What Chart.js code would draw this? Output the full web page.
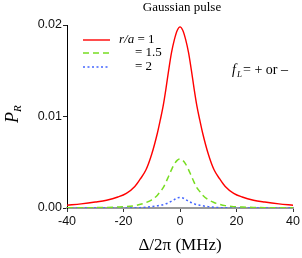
<!DOCTYPE html>
<html>
<head>
<meta charset="utf-8">
<script src="https://cdn.jsdelivr.net/npm/chart.js@4/dist/chart.umd.min.js"></script>
<style>
  html, body { margin: 0; padding: 0; background: #fff; }
  #wrap { width: 302px; height: 258px; }
</style>
</head>
<body>
<div id="wrap"><canvas id="pulseChart"></canvas></div>
<script>
// detuning (MHz)
var detuning = [-40,-35,-30,-26,-22,-19,-16,-14,-12,-10,-8,-7,-6,-5,-4,-3,-2,-1,0,1,2,3,4,5,6,7,8,10,12,14,16,19,22,26,30,35,40];
// P_R for r/a = 1, 1.5, 2
var prRa1 = [0.00030,0.00045,0.00065,0.00085,0.0012,0.00160,0.00235,0.0032,0.0042,0.0059,0.0082,0.0096,0.0111,0.0130,0.0151,0.0170,0.0184,0.0194,0.0198,
             0.0194,0.0184,0.0170,0.0151,0.0130,0.0111,0.0096,0.0082,0.0059,0.0042,0.0032,0.00235,0.00160,0.0012,0.00085,0.00065,0.00045,0.00030];
var prRa15 = [0.00002,0.00003,0.00004,0.00006,0.00010,0.00015,0.00026,0.0004,0.0006,0.0009,0.0014,0.0018,0.0022,0.0028,0.0035,0.0042,0.0048,0.0052,0.00535,
              0.0052,0.0048,0.0042,0.0035,0.0028,0.0022,0.0018,0.0014,0.0009,0.0006,0.0004,0.00026,0.00015,0.00010,0.00006,0.00004,0.00003,0.00002];
var prRa2 = [0,0,0,0.00001,0.00001,0.00001,0.00002,0.00004,0.00008,0.00015,0.00024,0.0003,0.00036,0.00046,0.00058,0.00075,0.00092,0.0011,0.00115,
             0.0011,0.00092,0.00075,0.00058,0.00046,0.00036,0.0003,0.00024,0.00015,0.00008,0.00004,0.00002,0.00001,0.00001,0.00001,0,0,0];
var xTicks = [-40,-20,0,20,40];
var yTicks = [0, 0.01, 0.02];

var SERIF = '"Liberation Serif", "DejaVu Serif", serif';
var SANS = '"Liberation Sans", Arial, sans-serif';

function pts(ys) {
  return detuning.map(function(x, i) { return {x: x, y: ys[i]}; });
}

// title, legend, labels drawn by hand
var labelsPlugin = {
  id: 'labels',
  afterDraw: function(chart) {
    var ctx = chart.ctx;
    var ca = chart.chartArea;
    var cx = (ca.left + ca.right) / 2;
    ctx.save();
    ctx.fillStyle = '#000';
    ctx.textBaseline = 'middle';

    ctx.font = '13px ' + SERIF;
    ctx.textAlign = 'center';
    ctx.fillText('Gaussian pulse', cx + 2, 8);

    ctx.font = '17px ' + SERIF;
    ctx.fillText('\u0394/2\u03c0 (MHz)', cx, 246);

    // y title
    ctx.save();
    ctx.translate(13, 116);
    ctx.rotate(-Math.PI / 2);
    ctx.font = 'italic 18px ' + SERIF;
    ctx.textAlign = 'left';
    ctx.fillText('P', -7, 0);
    ctx.font = 'italic 11px ' + SERIF;
    ctx.fillText('R', 4, 5);
    ctx.restore();

    // legend
    var rows = [
      {y: 40, color: '#ff0000', dash: []},
      {y: 53, color: '#77dd22', dash: [6, 4]},
      {y: 67, color: '#4466ff', dash: [2, 2.5]}
    ];
    rows.forEach(function(r) {
      ctx.beginPath();
      ctx.setLineDash(r.dash);
      ctx.strokeStyle = r.color;
      ctx.lineWidth = 1.4;
      ctx.moveTo(83, r.y);
      ctx.lineTo(110, r.y);
      ctx.stroke();
    });
    ctx.setLineDash([]);
    ctx.textAlign = 'left';
    ctx.font = 'italic 13px ' + SERIF;
    ctx.fillText('r/a', 119, 40);
    var w = ctx.measureText('r/a').width;
    ctx.font = '13px ' + SERIF;
    ctx.fillText(' = 1', 119 + w, 40);
    ctx.fillText('= 1.5', 135, 53);
    ctx.fillText('= 2', 135, 67);

    // f_L note
    ctx.font = 'italic 14px ' + SERIF;
    ctx.fillText('f', 232, 70);
    ctx.font = 'italic 9px ' + SERIF;
    ctx.fillText('L', 237, 75);
    ctx.font = '14px ' + SERIF;
    ctx.fillText('= + or \u2013', 243, 70);
    ctx.restore();
  }
};

new Chart(document.getElementById('pulseChart'), {
  type: 'line',
  data: {
    datasets: [
      {label: 'r/a = 1', data: pts(prRa1), borderColor: '#ff0000', borderWidth: 1.4},
      {label: 'r/a = 1.5', data: pts(prRa15), borderColor: '#77dd22', borderWidth: 1.5, borderDash: [6, 4]},
      {label: 'r/a = 2', data: pts(prRa2), borderColor: '#4466ff', borderWidth: 1.5, borderDash: [2, 2.5]}
    ]
  },
  options: {
    responsive: true,
    maintainAspectRatio: false,
    animation: false,
    layout: {padding: {top: 25, right: 7, left: 0, bottom: 0}},
    elements: {
      point: {radius: 0},
      line: {cubicInterpolationMode: 'monotone', fill: false}
    },
    plugins: {legend: {display: false}, tooltip: {enabled: false}},
    scales: {
      x: {
        type: 'linear',
        min: -40, max: 40,
        afterFit: function(s) { s.height = 50; },
        afterBuildTicks: function(s) { s.ticks = xTicks.map(function(v) { return {value: v}; }); },
        grid: {drawOnChartArea: false, tickLength: 4, color: '#333'},
        border: {color: '#999', width: 2},
        ticks: {color: '#111', font: {family: SANS, size: 12.5}, padding: 2}
      },
      y: {
        min: 0, max: 0.02,
        afterFit: function(s) { s.width = 67; },
        afterBuildTicks: function(s) { s.ticks = yTicks.map(function(v) { return {value: v}; }); },
        grid: {drawOnChartArea: false, tickLength: 4, color: '#222'},
        border: {color: '#000', width: 1},
        ticks: {color: '#111', font: {family: SANS, size: 12.5}, padding: 1,
                callback: function(v) { return v.toFixed(2); }}
      }
    }
  },
  plugins: [labelsPlugin]
});
</script>
</body>
</html>
